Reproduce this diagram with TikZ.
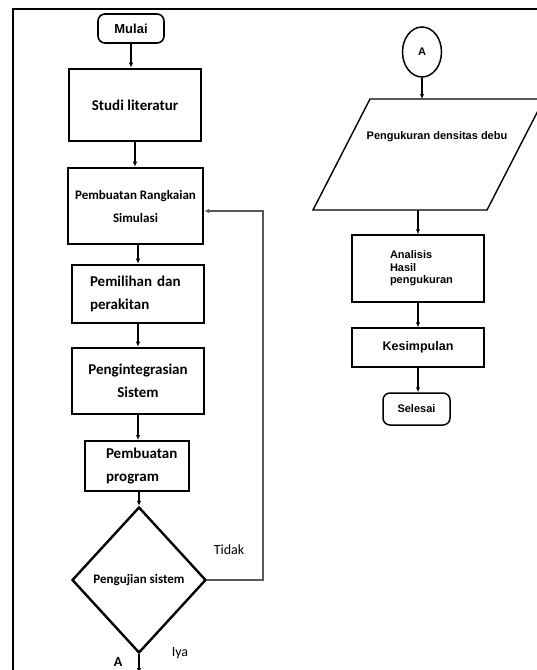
\documentclass[tikz,border=0pt]{standalone}
\usepackage{fontspec}
\newfontfamily\calfont{Carlito}
\newfontfamily\arfont{Liberation Sans}
\usetikzlibrary{shapes.geometric,arrows.meta,calc}
\begin{document}
\begin{tikzpicture}[x=1pt,y=-1pt,
  box/.style={draw,line width=2.6pt,inner sep=2pt,align=center,font=\calfont\bfseries\fontsize{15}{23}\selectfont},
  rbox/.style={draw,line width=1.4pt,align=center,font=\arfont\bfseries\fontsize{11}{12.5}\selectfont},
  term/.style={draw,line width=1.6pt,rounded corners=7pt,font=\arfont\bfseries\fontsize{13}{15}\selectfont},
  arr/.style={line width=1.2pt,-{Latex[length=5pt,width=4.5pt]}},
  lbl/.style={font=\calfont\fontsize{14}{16}\selectfont,inner sep=0pt}]
\useasboundingbox (0,0) rectangle (537,670);
% frame
\draw[line width=2pt] (13,675) -- (13,9) -- (540,9);
% left column
\node[term,minimum width=66pt,minimum height=29pt] (mulai) at (131,28.5) {Mulai};
\node[box,minimum width=132pt,minimum height=72pt] (studi) at (135,105) {Studi literatur};
\node[box,font=\calfont\bfseries\fontsize{13}{23}\selectfont,minimum width=135pt,minimum height=76pt] (rangkaian) at (135.5,206) {Pembuatan Rangkaian\\Simulasi};
\node[box,text width=96pt,inner xsep=18pt,align=left,minimum height=58pt] (pemilihan) at (138,294) {Pemilihan dan\\perakitan};
\node[box,minimum width=132pt,minimum height=66pt] (integ) at (138,381) {Pengintegrasian\\Sistem};
\node[box,line width=2pt,text width=62pt,inner xsep=21pt,align=left,minimum height=50pt] (program) at (137,466) {Pembuatan\\program};
\node[draw,diamond,line width=2.4pt,minimum width=134pt,minimum height=146pt,inner sep=0pt,font=\calfont\bfseries\fontsize{13}{15}\selectfont] (dia) at (139,580) {Pengujian sistem};
\node[lbl] (tidak) at (229,550) {Tidak};
\node[lbl] (iya) at (180,653) {Iya};
\node[lbl,font=\calfont\bfseries\fontsize{14}{16}\selectfont] (alabel) at (118,662) {A};
\coordinate (aend) at (139,673);
\coordinate (loopc) at (263,211);
\draw[arr] (mulai.south) -- (mulai.south |- studi.north);
\draw[arr] (studi.south) -- (studi.south |- rangkaian.north);
\draw[arr] (pemilihan.north |- rangkaian.south) -- (pemilihan.north);
\draw[arr] (pemilihan.south) -- (integ.north);
\draw[arr] (integ.south) -- (integ.south |- program.north);
\draw[arr] (program.south -| dia.north) -- (dia.north);
\draw[arr] (dia.south) -- (aend);
\draw[arr,draw=black!65,line width=1.3pt] (dia.east) -| (loopc) -- (rangkaian.east |- loopc);
% right column
\node[draw,ellipse,line width=1.5pt,minimum width=39pt,minimum height=50pt,inner sep=0pt,font=\arfont\bfseries\fontsize{11}{13}\selectfont] (circA) at (422,52) {A};
\coordinate (ptl) at (370,99);
\coordinate (ptr) at (544,99);
\coordinate (pbr) at (487,210);
\coordinate (pbl) at (313,210);
\draw[line width=1.4pt] (ptl) -- (ptr) -- (pbr) -- (pbl) -- cycle;
\node[font=\arfont\bfseries\fontsize{11}{13}\selectfont] (para) at (437,137) {Pengukuran densitas debu};
\node[rbox,text width=56pt,inner xsep=38pt,align=left,minimum height=67pt] (analisis) at (418,268.5) {Analisis\\Hasil\\pengukuran};
\node[rbox,font=\arfont\bfseries\fontsize{12.5}{14}\selectfont,minimum width=132pt,minimum height=39pt] (kesimp) at (418,347.5) {Kesimpulan};
\node[term,line width=1.5pt,font=\arfont\bfseries\fontsize{11}{13}\selectfont,minimum width=67pt,minimum height=32pt] (selesai) at (416.5,409) {Selesai};
\draw[arr] (circA.south) -- (circA.south |- ptl);
\draw[arr] (analisis.north |- pbl) -- (analisis.north);
\draw[arr] (analisis) -- (kesimp);
\draw[arr] (kesimp.south) -- (kesimp.south |- selesai.north);
\end{tikzpicture}
\end{document}
